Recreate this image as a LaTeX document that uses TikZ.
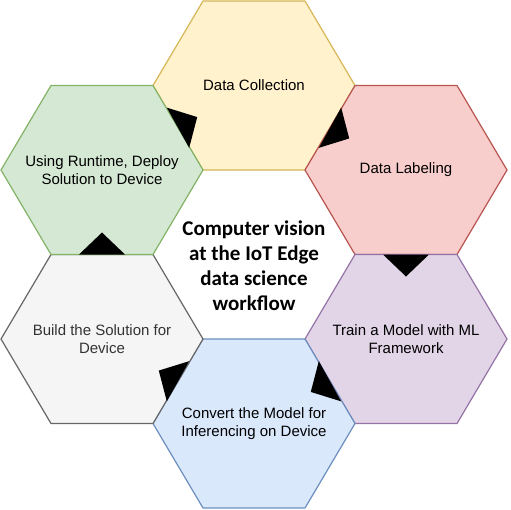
\documentclass[tikz,border=0pt]{standalone}
\usepackage{fontspec}
\setmainfont{Liberation Sans}
\newfontfamily\titlefont{Carlito}
\usetikzlibrary{calc}

\definecolor{yellowfill}{HTML}{FFF2CC}
\definecolor{yellowline}{HTML}{D6B656}
\definecolor{redfill}{HTML}{F8CECC}
\definecolor{redline}{HTML}{B85450}
\definecolor{purplefill}{HTML}{E1D5E7}
\definecolor{purpleline}{HTML}{9673A6}
\definecolor{bluefill}{HTML}{DAE8FC}
\definecolor{blueline}{HTML}{6C8EBF}
\definecolor{grayfill}{HTML}{F5F5F5}
\definecolor{grayline}{HTML}{666666}
\definecolor{greenfill}{HTML}{D5E8D4}
\definecolor{greenline}{HTML}{82B366}

\tikzset{
	hex/.style={line width=1.2pt, line join=round},
	lbl/.style={font=\fontsize{15}{18}\selectfont, align=center},
	tip/.style={fill=black},
}

\begin{document}
\begin{tikzpicture}[x=1pt, y=-1pt]
	\useasboundingbox (0, 0) rectangle (511, 509);
	% centres of the six cells
	\coordinate (c1) at (254, 85.5);
	\coordinate (c2) at (406, 170);
	\coordinate (c3) at (406, 339);
	\coordinate (c4) at (254, 423.5);
	\coordinate (c5) at (102, 339);
	\coordinate (c6) at (102, 170);

	\foreach \c/\fc/\dc in {c1/yellowfill/yellowline, c2/redfill/redline, c3/purplefill/purpleline,
		c4/bluefill/blueline, c5/grayfill/grayline, c6/greenfill/greenline}
		\draw[hex, fill=\fc, draw=\dc] (\c) +(-101, 0) -- +(-51, -84.5) -- +(51, -84.5)
			-- +(101, 0) -- +(51, 84.5) -- +(-51, 84.5) -- cycle;

	\node[lbl] (collect) at (c1) {Data Collection};
	\node[lbl] (labeling) at (c2) {Data Labeling};
	\node[lbl] (train) at (c3) {Train a Model with ML\\Framework};
	\node[lbl] (convert) at (c4) {Convert the Model for\\Inferencing on Device};
	\node[lbl, text=black!80] (build) at (c5) {Build the Solution for\\Device};
	\node[lbl] (deploy) at (c6) {Using Runtime, Deploy\\Solution to Device};

	\node[font=\titlefont\bfseries\fontsize{21}{25}\selectfont, align=center] (title) at (254, 266)
		{Computer vision\\at the IoT Edge\\data science\\workflow};

	% arrow heads on the shared edges
	\foreach \a/\b in {c1/c2, c2/c3, c3/c4, c4/c5, c5/c6, c6/c1}
		\fill[tip] ($(\a)!0.5!(\b)$) coordinate (m)
			($(m)!23pt!90:(\b)$) -- ($(m)!22pt!(\b)$) -- ($(m)!23pt!-90:(\b)$) -- cycle;
\end{tikzpicture}
\end{document}
